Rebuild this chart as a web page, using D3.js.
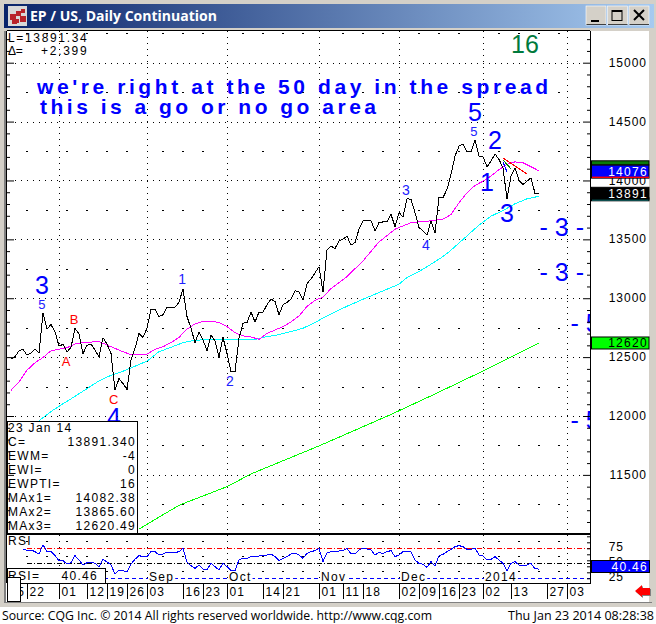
<!DOCTYPE html>
<html>
<head>
<meta charset="utf-8">
<title>EP / US, Daily Continuation</title>
<script src="https://cdn.jsdelivr.net/npm/d3@7/dist/d3.min.js"></script>
<style>
    html, body { margin: 0; padding: 0; background: #d4d0c8; }
    svg { display: block; font-family: "Liberation Sans", Arial, sans-serif; }
</style>
</head>
<body>
<svg id="chart" width="656" height="624"></svg>
<script>
// daily closes, one per session from mid July 2013 to 23 Jan 2014
const closeValues = [
    12483, 12503, 12554, 12566, 12517, 12534, 12571, 12534, 12873, 12739,
    12776, 12717, 12594, 12608, 12543, 12583, 12745, 12697, 12531, 12600,
    12611, 12560, 12503, 12665, 12611, 12531, 12218, 12318, 12275, 12224,
    12474, 12574, 12702, 12668, 12745, 12908, 12908, 12845, 12859, 12925,
    12925, 12925, 12965, 13081, 12845, 12745, 12623, 12711, 12645, 12554,
    12688, 12637, 12497, 12668, 12531, 12375, 12375, 12660, 12788, 12794,
    12882, 12799, 12882, 12882, 12945, 12993, 12973, 12859, 12945, 12965,
    12993, 13064, 13053, 12987, 13124, 13164, 13215, 13267, 13054, 13408,
    13444, 13422, 13487, 13501, 13529, 13450, 13473, 13586, 13657, 13662,
    13657, 13572, 13642, 13648, 13648, 13713, 13608, 13727, 13691, 13846,
    13840, 13727, 13600, 13572, 13535, 13657, 13552, 13855, 13855, 13925,
    14051, 14207, 14291, 14311, 14243, 14243, 14342, 14207, 14201, 14116,
    14164, 14226, 14178, 14107, 13844, 14037, 14107, 14000, 13966, 13994,
    14023, 13890, 13891
];

// moving averages, read at the sessions listed in the matching Days array
const ma1Days = [0, 2, 4, 6, 8, 10, 12, 14, 16, 18, 20, 22, 24, 26, 28, 30, 32, 34, 36, 38, 40, 42, 44, 46, 48, 50, 52, 54, 56, 58, 60, 62, 64, 66, 68, 70, 72, 74, 76, 78, 80, 84, 88, 92, 96, 100, 104, 108, 110, 112, 114, 116, 118, 120, 122, 124, 126, 128, 130, 132];
const ma1Values = [12218, 12289, 12389, 12452, 12497, 12554, 12568, 12580, 12611, 12625, 12628, 12631, 12603, 12574, 12546, 12520, 12520, 12526, 12566, 12588, 12623, 12668, 12737, 12782, 12802, 12805, 12794, 12759, 12708, 12680, 12671, 12651, 12702, 12730, 12759, 12799, 12850, 12930, 12982, 13010, 13082, 13184, 13317, 13478, 13586, 13642, 13654, 13671, 13711, 13810, 13895, 13958, 13994, 14037, 14093, 14136, 14158, 14150, 14116, 14082];

const ma2Days = [7, 10, 13, 16, 19, 22, 25, 28, 31, 34, 37, 40, 43, 46, 49, 52, 55, 58, 61, 64, 67, 70, 73, 76, 79, 84, 89, 93, 97, 99, 102, 105, 108, 110, 113, 117, 120, 123, 126, 129, 132];
const ma2Values = [11961, 12038, 12104, 12167, 12232, 12298, 12346, 12380, 12423, 12466, 12546, 12583, 12623, 12643, 12648, 12651, 12651, 12651, 12651, 12674, 12691, 12717, 12745, 12794, 12850, 12932, 13006, 13062, 13119, 13175, 13226, 13289, 13354, 13408, 13499, 13621, 13697, 13745, 13802, 13844, 13866];

const ma3Days = [32, 42, 54, 60, 77, 95, 106, 118, 132];
const ma3Values = [11040, 11242, 11400, 11508, 11746, 12013, 12187, 12382, 12620];

// short projection strokes near the last highs
const projections = [
    { days: [123, 129], values: [14191, 14055], color: "#ff0000" },
    { days: [123, 125], values: [14174, 14098], color: "#008000" },
    { days: [123, 124], values: [14157, 14072], color: "#0000ff" }
];

// RSI starts at session 3
const rsiFirstDay = 3;
const rsiValues = [
    73.3, 71.7, 72.2, 69.4, 65.6, 80.6, 69.4, 69.4, 62.8, 54.4,
    54.4, 48.9, 51.1, 62.8, 55.6, 47.2, 51.1, 51.7, 50, 44.4,
    56.7, 52.2, 47.2, 32.2, 38.9, 37.8, 35.6, 48.9, 56.7, 62.8,
    61.1, 61.1, 69.4, 69.4, 63.9, 65.6, 68.3, 67.8, 67.8, 69.4,
    75, 51.7, 46.1, 41.7, 47.2, 40.6, 38.9, 50, 44.4, 38.9,
    50, 44.4, 37.8, 37.8, 55.6, 58.3, 58.3, 61.1, 61.1, 62.2,
    62.2, 63.9, 65.6, 61.1, 54.4, 58.3, 61.1, 65.6, 66.7, 63.9,
    58.3, 66.7, 69.4, 71.1, 75, 52.8, 67.8, 69.4, 69.4, 70.6,
    71.1, 75, 65.6, 65.6, 72.2, 75, 73.9, 72.2, 63.9, 67.8,
    66.7, 69.4, 71.1, 61.1, 63.9, 69.4, 70.6, 69.4, 55.6, 50,
    48.3, 43.3, 52.8, 45.6, 62.8, 65, 69.4, 73.3, 77.8, 79.4,
    77.8, 73.3, 73.3, 75, 63.9, 62.2, 55.6, 56.7, 61.1, 55.6,
    50, 37.8, 50, 52.8, 47.2, 45.6, 47.2, 50, 40.6, 40.46
];

// date axis
const dateDays = [-1, 4, 12, 19, 24, 29, 34, 43, 48, 54, 63, 68, 77, 83, 88, 97, 102, 107, 112, 118, 125, 134, 139];
const dateLabels = ["15", "22", "01", "12", "19", "26", "03", "16", "23", "01", "14", "21", "01", "11", "18", "02", "09", "16", "23", "02", "13", "27", "03"];
const monthDays = [12, 34, 54, 77, 97, 118, 139];
const monthLabels = ["", "Sep", "Oct", "Nov", "Dec", "2014", ""];
const weekDays = [4, 9, 14, 19, 24, 29, 38, 43, 48, 58, 63, 68, 73, 83, 88, 93, 102, 107, 112, 122, 127, 132, 137];

const priceTicks = [15000, 14500, 14000, 13500, 13000, 12500, 12000, 11500];
const rsiTicks = [75, 50, 25];

// Elliott wave labels on the price pane
const waveText = ["3", "5", "B", "A", "C", "4", "1", "2", "3", "4", "5", "5", "2", "1", "3", "- 3 -", "- 3 -", "- 5", "- 5", "16"];
const waveDays = [7.75, 7.7, 15.75, 13.75, 25.7, 25.75, 42.8, 54.7, 98.75, 103.7, 115.7, 116, 121, 119, 124, 137.7, 137.7, 143.5, 143.5, 128.5];
const wavePrices = [13113, 12949, 12824, 12461, 12145, 11995, 13161, 12300, 13919, 13452, 14420, 14584, 14344, 13990, 13727, 13608, 13226, 12787, 11967, 15159];
const waveSizes = [25, 13, 13, 13, 13, 25, 14, 14, 14, 14, 13, 25, 25, 25, 25, 25, 25, 25, 25, 25];
const waveColors = ["#0000ff", "#2020ff", "#ff0000", "#ff0000", "#ff0000", "#0000ff", "#2020ff", "#2020ff", "#2020ff", "#2020ff", "#2020ff", "#0000ff", "#0000ff", "#0000ff", "#0000ff", "#0000ff", "#0000ff", "#0000ff", "#0000ff", "#007a3d"];

const infoLabels = ["23 Jan 14", "C=", "EWM=", "EWI=", "EWPTI=", "MAx1=", "MAx2=", "MAx3="];
const infoValues = ["", "13891.340", "-4", "0", "16", "14082.38", "13865.60", "12620.49"];

const svg = d3.select("#chart");
const frameColor = "#d4d0c8";

const plotLeft = 7, plotRight = 590, plotTop = 31, plotBottom = 533;
const rsiTop = 535, rsiBottom = 583;

const x = d3.scaleLinear().domain([0, 132]).range([11, 539]);
const y = d3.scaleLinear().domain([12000, 15000]).range([416, 62.7]);
const yRsi = d3.scaleLinear().domain([25, 75]).range([578.3, 548.3]);

// window frame
const defs = svg.append("defs");
const titleGrad = defs.append("linearGradient").attr("id", "titleGrad");
titleGrad.append("stop").attr("offset", "0").attr("stop-color", "#0a246a");
titleGrad.append("stop").attr("offset", "1").attr("stop-color", "#a6caf0");
defs.append("clipPath").attr("id", "mainClip").append("rect")
    .attr("x", plotLeft).attr("y", plotTop)
    .attr("width", plotRight - plotLeft).attr("height", plotBottom - plotTop);
defs.append("clipPath").attr("id", "rsiClip").append("rect")
    .attr("x", plotLeft).attr("y", rsiTop)
    .attr("width", plotRight - plotLeft).attr("height", rsiBottom - rsiTop);

svg.append("rect").attr("width", 656).attr("height", 624).attr("fill", frameColor);
svg.append("rect").attr("x", 4).attr("y", 4).attr("width", 650).attr("height", 24).attr("fill", "url(#titleGrad)");
svg.append("rect").attr("x", 6).attr("y", 31).attr("width", 643).attr("height", 571).attr("fill", "#fff");
svg.append("rect").attr("x", 0).attr("y", 607).attr("width", 656).attr("height", 17).attr("fill", "#fff");
svg.append("rect").attr("x", 4).attr("y", 31).attr("width", 2).attr("height", 571).attr("fill", "#808080");
svg.append("rect").attr("x", 4).attr("y", 602).attr("width", 648).attr("height", 1).attr("fill", "#808080");

// title bar icon
svg.append("rect").attr("x", 8).attr("y", 6).attr("width", 19).attr("height", 20).attr("fill", "#d8d8d8");
[[10, 14, 6], [12, 19, 5], [16, 11, 5], [20, 16, 6], [21, 9, 4], [15, 19, 4]].forEach(s => {
    svg.append("rect").attr("x", s[0]).attr("y", s[1]).attr("width", s[2]).attr("height", s[2]).attr("fill", "#b8232a");
});
svg.append("text").attr("x", 30).attr("y", 21)
    .attr("fill", "#fff").attr("font-family", "'Open Sans', sans-serif")
    .attr("font-weight", "bold").attr("font-size", 14)
    .attr("textLength", 187).attr("lengthAdjust", "spacingAndGlyphs")
    .text("EP / US, Daily Continuation");

// window buttons
[586, 607.5, 629].forEach((bx, k) => {
    svg.append("rect").attr("x", bx).attr("y", 6).attr("width", 20).attr("height", 19)
        .attr("fill", frameColor).attr("stroke", "#fff").attr("stroke-width", 0.6);
    svg.append("rect").attr("x", bx + 0.5).attr("y", 24).attr("width", 19.5).attr("height", 1).attr("fill", "#404040");
    if (k === 0) {
        svg.append("rect").attr("x", bx + 5).attr("y", 20).attr("width", 8).attr("height", 2).attr("fill", "#000");
    } else if (k === 1) {
        svg.append("rect").attr("x", bx + 4.5).attr("y", 10.5).attr("width", 10).attr("height", 10)
            .attr("fill", "none").attr("stroke", "#000");
        svg.append("rect").attr("x", bx + 4.5).attr("y", 10).attr("width", 10).attr("height", 2).attr("fill", "#000");
    } else {
        svg.append("path").attr("d", `M${bx + 5},10L${bx + 15},20M${bx + 15},10L${bx + 5},20`)
            .attr("stroke", "#000").attr("stroke-width", 2);
    }
});

// grid
const gridG = svg.append("g").attr("stroke", "#000").attr("stroke-width", 1).attr("stroke-dasharray", "1 5");
priceTicks.forEach(p => {
    gridG.append("line").attr("x1", plotLeft + 8).attr("x2", plotRight - 8)
        .attr("y1", Math.round(y(p)) + 0.5).attr("y2", Math.round(y(p)) + 0.5);
});
monthDays.forEach(d => {
    [[plotTop, plotBottom], [rsiTop, rsiBottom]].forEach(r => {
        gridG.append("line").attr("x1", Math.round(x(d)) + 0.5).attr("x2", Math.round(x(d)) + 0.5)
            .attr("y1", r[0]).attr("y2", r[1]);
    });
});

// short dashes at the weekly ticks, half way between the price levels
const dashG = svg.append("g").attr("stroke", "#000").attr("stroke-width", 1);
const dashPrices = d3.range(11250, 15500, 500);
weekDays.forEach(d => {
    dashPrices.forEach(p => {
        dashG.append("line").attr("x1", x(d) - 1).attr("x2", x(d) + 1)
            .attr("y1", Math.round(y(p)) + 0.5).attr("y2", Math.round(y(p)) + 0.5);
    });
    [87.5, 62.5, 37.5].forEach(r => {
        dashG.append("line").attr("x1", x(d) - 1).attr("x2", x(d) + 1)
            .attr("y1", Math.round(yRsi(r)) + 0.5).attr("y2", Math.round(yRsi(r)) + 0.5);
    });
});

// price lines
const main = svg.append("g").attr("clip-path", "url(#mainClip)");
const priceLine = d3.line().x(d => x(d[0])).y(d => y(d[1]));
const pairs = (days, values) => days.map((d, k) => [d, values[k]]);

function addLine(days, values, color) {
    main.append("path")
        .attr("d", priceLine(pairs(days, values)))
        .attr("fill", "none")
        .attr("stroke", color)
        .attr("stroke-width", 1)
        .attr("shape-rendering", "crispEdges");
}

addLine(ma3Days, ma3Values, "#00ff00");
addLine(ma2Days, ma2Values, "#00ffff");
addLine(ma1Days, ma1Values, "#ff00ff");
addLine(closeValues.map((v, k) => k), closeValues, "#000");
projections.forEach(p => addLine(p.days, p.values, p.color));

// wave labels
main.selectAll("text.wave")
    .data(waveText)
    .join("text")
    .attr("class", "wave")
    .attr("x", (d, k) => x(waveDays[k]))
    .attr("y", (d, k) => y(wavePrices[k]))
    .attr("dy", "0.36em")
    .attr("text-anchor", "middle")
    .attr("font-size", (d, k) => waveSizes[k])
    .attr("fill", (d, k) => waveColors[k])
    .attr("xml:space", "preserve")
    .text(d => d);

// comment typed on the chart
[["we're right at the 50 day in the spread", 37, 94, 511], ["this is a go or no go area", 40, 114, 336]].forEach(n => {
    svg.append("text").attr("x", n[1]).attr("y", n[2])
        .attr("font-size", 21).attr("font-weight", "bold").attr("fill", "#0000ff")
        .attr("textLength", n[3]).attr("lengthAdjust", "spacing")
        .text(n[0]);
});

// last value readout, top left
function monoText(g, str, tx, ty, len, anchor, color) {
    const t = g.append("text").attr("x", tx).attr("y", ty)
        .attr("font-size", 12).attr("fill", color || "#000")
        .attr("text-anchor", anchor || "start")
        .attr("xml:space", "preserve")
        .attr("letter-spacing", 1.3)
        .text(str);
    if (len) t.attr("textLength", len).attr("lengthAdjust", "spacing");
    return t;
}
monoText(svg, "L=13891.34", 8, 42, 80);
monoText(svg, "\u0394=", 8, 55, 16);
monoText(svg, "+2.399", 41, 55, 47);

// info box
svg.append("rect").attr("x", 7.5).attr("y", 421.5).attr("width", 130).attr("height", 112)
    .attr("fill", "#fff").attr("stroke", "#000");
infoLabels.forEach((label, k) => {
    const ty = 432 + k * 13.95;
    monoText(svg, label, 8, ty);
    if (infoValues[k]) monoText(svg, infoValues[k], 136, ty, null, "end");
});

// panel borders
svg.append("rect").attr("x", plotLeft).attr("y", plotTop - 1).attr("width", plotRight - plotLeft).attr("height", 1).attr("fill", "#000");
svg.append("rect").attr("x", plotLeft).attr("y", plotBottom).attr("width", plotRight - plotLeft + 1).attr("height", 2).attr("fill", "#000");
svg.append("rect").attr("x", plotLeft).attr("y", rsiBottom).attr("width", plotRight - plotLeft + 1).attr("height", 1).attr("fill", "#000");
svg.append("rect").attr("x", plotLeft - 1).attr("y", plotTop).attr("width", 1).attr("height", rsiBottom - plotTop).attr("fill", "#000");

// price axis on the right
const rightAxis = d3.axisLeft(y).tickValues(d3.range(11100, 15300, 100)).tickFormat("")
    .tickSize(3).tickSizeOuter(0);
svg.append("g").attr("transform", `translate(${plotRight},0)`).call(rightAxis)
    .call(g => g.select(".domain").attr("stroke", "#000").attr("d", `M0.5,${plotTop}V${rsiBottom}`))
    .call(g => g.selectAll(".tick line").attr("x2", d => (d % 500 === 0 ? -7 : -3)));

const leftAxis = d3.axisRight(y).tickValues(d3.range(11100, 15300, 100)).tickFormat("")
    .tickSize(3).tickSizeOuter(0);
svg.append("g").attr("transform", `translate(${plotLeft},0)`).call(leftAxis)
    .call(g => g.select(".domain").remove())
    .call(g => g.selectAll(".tick line").attr("x2", d => (d % 500 === 0 ? 7 : 3)));

const priceAxis = d3.axisRight(y).tickValues(priceTicks).tickSize(0).tickFormat(d3.format("d"));
svg.append("g").attr("transform", `translate(${plotRight},0)`).call(priceAxis)
    .call(g => g.select(".domain").remove())
    .call(g => g.selectAll("text")
        .attr("x", 57).attr("dy", "0.3em")
        .attr("text-anchor", "end")
        .attr("font-family", "'Liberation Sans', sans-serif")
        .attr("font-size", 12).attr("letter-spacing", 1).attr("fill", "#000"));

// last value flags on the price axis
function flag(value, text, fill, textColor, height, showText) {
    const cy = y(value);
    svg.append("rect").attr("x", 591.5).attr("y", cy - height / 2).attr("width", 57.5).attr("height", height)
        .attr("fill", fill).attr("stroke", "#000");
    if (showText) {
        monoText(svg, text, 648, cy + 4.5, null, "end", textColor);
    }
}
flag(14150, "", "#0a7a0a", "#fff", 4, false);
flag(14075, "14076", "#0000ff", "#fff", 13, true);
svg.append("rect").attr("x", 592).attr("y", 176.6).attr("width", 57).attr("height", 1.4).attr("fill", "#ff0000");
flag(13840, "", "#00ffff", "#000", 3, false);
flag(13891, "13891", "#000", "#fff", 12, true);
flag(12620, "12620", "#00ff00", "#000", 12, true);

// RSI pane
const rsi = svg.append("g").attr("clip-path", "url(#rsiClip)");
const rsiLevels = [75, 50, 25];
const rsiLevelColors = ["#ff0000", "#000", "#0000ff"];
const rsiLevelDash = ["5 2 1 2", "5 2 1 2", "4 3"];
rsiLevels.forEach((lv, k) => {
    rsi.append("line").attr("x1", plotLeft + 20).attr("x2", plotRight)
        .attr("y1", Math.round(yRsi(lv)) + 0.5).attr("y2", Math.round(yRsi(lv)) + 0.5)
        .attr("stroke", rsiLevelColors[k]).attr("stroke-dasharray", rsiLevelDash[k]);
});
const rsiLine = d3.line().x((d, k) => x(rsiFirstDay + k)).y(d => yRsi(d));
rsi.append("path").attr("d", rsiLine(rsiValues))
    .attr("fill", "none").attr("stroke", "#0000ff").attr("stroke-width", 1)
    .attr("shape-rendering", "crispEdges");

monoText(svg, "RSI", 8, 545);

// month names sit on the lower RSI line
monthDays.forEach((d, k) => {
    if (!monthLabels[k]) return;
    const t = monoText(svg, monthLabels[k], x(d) + 2, 581);
    const w = t.node().getComputedTextLength();
    svg.insert("rect", () => t.node())
        .attr("x", x(d) + 1).attr("y", 571).attr("width", w + 2).attr("height", 12).attr("fill", "#fff");
});

svg.append("rect").attr("x", 7.5).attr("y", 568.5).attr("width", 98).attr("height", 15)
    .attr("fill", "#fff").attr("stroke", "#000");
monoText(svg, "RSI=", 8, 580);
monoText(svg, "40.46", 98, 580, null, "end");

const rsiAxis = d3.axisLeft(yRsi).tickValues(d3.range(5, 100, 10)).tickFormat("").tickSize(3).tickSizeOuter(0);
svg.append("g").attr("transform", `translate(${plotRight},0)`).call(rsiAxis)
    .call(g => g.select(".domain").remove())
    .call(g => g.selectAll(".tick").filter(d => yRsi(d) < rsiTop || yRsi(d) > rsiBottom).remove());

const rsiLabelAxis = d3.axisRight(yRsi).tickValues(rsiTicks).tickSize(0);
svg.append("g").attr("transform", `translate(${plotRight},0)`).call(rsiLabelAxis)
    .call(g => g.select(".domain").remove())
    .call(g => g.selectAll("text")
        .attr("x", 34).attr("dy", "0.15em")
        .attr("text-anchor", "end")
        .attr("font-family", "'Liberation Sans', sans-serif")
        .attr("font-size", 12).attr("letter-spacing", 1).attr("fill", "#000"));

svg.append("rect").attr("x", 591.5).attr("y", 560.5).attr("width", 58).attr("height", 12)
    .attr("fill", "#0000ff").attr("stroke", "#000");
monoText(svg, "40.46", 648, 570.5, null, "end", "#fff");

// date axis
const dateAxis = d3.axisBottom(x).tickValues(dateDays)
    .tickSize(16).tickSizeOuter(0)
    .tickFormat(d => dateLabels[dateDays.indexOf(d)]);
svg.append("g").attr("transform", `translate(0,${rsiBottom})`).call(dateAxis)
    .call(g => g.select(".domain").remove())
    .call(g => g.selectAll(".tick line").attr("stroke", "#000"))
    .call(g => g.selectAll("text")
        .attr("x", 2).attr("y", 4).attr("dy", "0.71em")
        .attr("text-anchor", "start")
        .attr("font-family", "'Liberation Sans', sans-serif")
        .attr("font-size", 12).attr("letter-spacing", 1).attr("fill", "#000"));

// covers the first date label, as on the source window
svg.append("rect").attr("x", 7.5).attr("y", 577.5).attr("width", 13).attr("height", 24)
    .attr("fill", "#fff").attr("stroke", "#000");
svg.append("rect").attr("x", 0).attr("y", 31).attr("width", 4).attr("height", 571).attr("fill", frameColor);

// red arrow, bottom right
svg.append("path").attr("d", "M636,592L643,586V589H651V596H643V598Z").attr("fill", "#808080");
svg.append("path").attr("d", "M635,591L642,585V588H650V595H642V597Z").attr("fill", "#ff0000");

// status bar
const statusFont = "'Open Sans', sans-serif";
svg.append("text").attr("x", 2).attr("y", 620).attr("font-family", statusFont).attr("font-size", 12)
    .attr("textLength", 430).attr("lengthAdjust", "spacingAndGlyphs").attr("fill", "#000")
    .text("Source: CQG Inc. \u00a9 2014 All rights reserved worldwide. http://www.cqg.com");
svg.append("text").attr("x", 508).attr("y", 620).attr("font-family", statusFont).attr("font-size", 12)
    .attr("textLength", 146).attr("lengthAdjust", "spacingAndGlyphs").attr("fill", "#000")
    .text("Thu Jan 23 2014 08:28:38");
</script>
</body>
</html>
